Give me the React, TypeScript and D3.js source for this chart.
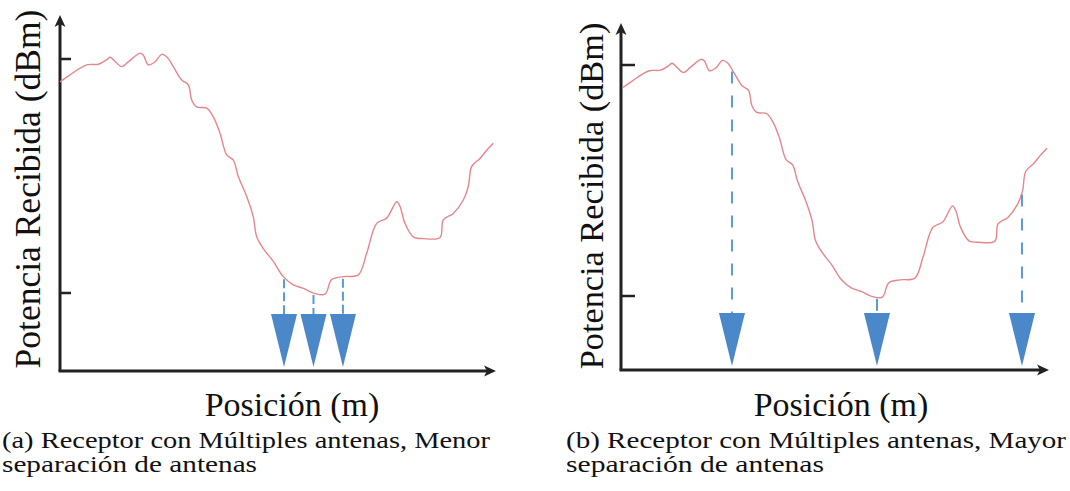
import React from "react";
import * as d3 from "d3";

// Received power curve (arbitrary position units 0..100, power in dBm)
const positions = [0, 2.31, 6.16, 8.84, 10.78, 11.54, 12.3, 14.24, 15.76, 18.46, 19.22, 20.38, 21.92, 23.47, 24.62, 26.15, 28.09, 29.61, 30.39, 31.55, 33.86, 35.38, 36.93, 38.47, 40.0, 41.15, 43.09, 44.61, 45.4, 46.92, 49.23, 51.54, 53.84, 56.15, 58.85, 61.16, 62.7, 65.38, 68.84, 70.78, 73.09, 75.4, 77.71, 78.47, 79.62, 81.54, 83.85, 87.7, 88.46, 90.77, 93.08, 94.23, 95.0, 96.93, 98.48, 100];
const powerDbm = [-43.9, -42.7, -41.0, -40.9, -40.1, -39.7, -40.1, -41.3, -40.5, -39.0, -39.3, -41.0, -40.5, -39.2, -39.6, -41.3, -43.6, -44.4, -47.0, -48.2, -48.4, -49.9, -52.7, -56.4, -57.3, -60.1, -63.5, -67.0, -70.4, -72.4, -74.6, -77.2, -78.6, -79.2, -80.1, -80.2, -77.7, -77.2, -76.9, -73.2, -68.1, -67.2, -64.4, -65.2, -68.1, -70.4, -70.7, -70.5, -67.5, -66.4, -64.1, -61.8, -58.4, -57.0, -55.6, -54.4];

// Antenna positions for each case
const antennasA = [51.7, 58.5, 65.3];
const antennasB = [25.7, 59.9, 94.1];

// Y ticks (unlabelled)
const yTicks = [-80, -40];

const yAxisLabel = "Potencia Recibida (dBm)";
const xAxisLabel = "Posición (m)";
const captionA = ["(a) Receptor con Múltiples antenas, Menor", "separación de antenas"];
const captionB = ["(b) Receptor con Múltiples antenas, Mayor", "separación de antenas"];

const data = positions.map((p, i) => ({ pos: p, dbm: powerDbm[i] }));

interface PanelCfg {
  axisX: number;
  axisY: number;
  yTop: number;
  xTip: number;
  curveRange: [number, number];
  yRange: [number, number];
  tickLen: number;
  yLabelX: number;
  yLabelY: number;
  yLabelSize: number;
  xLabelX: number;
  xLabelY: number;
  captionX: number;
  captionWidths: number[];
  antennas: number[];
  caption: string[];
  dash: string;
}

const panels: PanelCfg[] = [
  {
    axisX: 60, axisY: 371, yTop: 15, xTip: 496,
    curveRange: [60, 493.3], yRange: [293, 59], tickLen: 11,
    yLabelX: 40, yLabelY: 189, yLabelSize: 35.5,
    xLabelX: 292, xLabelY: 416, captionX: 2, captionWidths: [488, 255],
    antennas: antennasA, caption: captionA, dash: "9 4",
  },
  {
    axisX: 621, axisY: 370, yTop: 23, xTip: 1049,
    curveRange: [623, 1047], yRange: [296, 65], tickLen: 14,
    yLabelX: 603, yLabelY: 196, yLabelSize: 34.3,
    xLabelX: 841, xLabelY: 416, captionX: 566, captionWidths: [500, 258],
    antennas: antennasB, caption: captionB, dash: "12 12",
  },
];

const interp = (p: number) => {
  const i = d3.bisector((d: { pos: number }) => d.pos).left(data, p);
  if (i <= 0) return data[0].dbm;
  if (i >= data.length) return data[data.length - 1].dbm;
  const a = data[i - 1], b = data[i];
  const t = (p - a.pos) / (b.pos - a.pos);
  return a.dbm + t * (b.dbm - a.dbm);
};

const Panel = ({ cfg }: { cfg: PanelCfg }) => {
  const x = d3.scaleLinear().domain([0, 100]).range(cfg.curveRange);
  const y = d3.scaleLinear().domain([-80, -40]).range(cfg.yRange);
  const line = d3
    .line<{ pos: number; dbm: number }>()
    .x((d) => x(d.pos))
    .y((d) => y(d.dbm))
    .curve(d3.curveCatmullRom.alpha(0.5));
  const axisColor = "#222";
  const triTop = cfg.axisY - 57;
  const triTip = cfg.axisY - 4;
  const triHalf = 13;
  return (
    <g>
      {/* axes */}
      <line x1={cfg.axisX} y1={cfg.axisY} x2={cfg.axisX} y2={cfg.yTop + 6} stroke={axisColor} strokeWidth={3} />
      <line x1={cfg.axisX - 1.5} y1={cfg.axisY} x2={cfg.xTip - 6} y2={cfg.axisY} stroke={axisColor} strokeWidth={3} />
      <path
        d={`M${cfg.axisX},${cfg.yTop} L${cfg.axisX - 5.5},${cfg.yTop + 12} L${cfg.axisX},${cfg.yTop + 9} L${cfg.axisX + 5.5},${cfg.yTop + 12} Z`}
        fill={axisColor}
      />
      <path
        d={`M${cfg.xTip},${cfg.axisY} L${cfg.xTip - 12},${cfg.axisY - 5.5} L${cfg.xTip - 9},${cfg.axisY} L${cfg.xTip - 12},${cfg.axisY + 5.5} Z`}
        fill={axisColor}
      />
      {yTicks.map((t) => (
        <line key={t} x1={cfg.axisX} x2={cfg.axisX + cfg.tickLen} y1={y(t)} y2={y(t)} stroke={axisColor} strokeWidth={2.5} />
      ))}
      {/* curve */}
      <path d={line(data) || ""} fill="none" stroke="#e5868b" strokeWidth={1.4} strokeLinejoin="round" />
      {/* antennas */}
      {cfg.antennas.map((a) => (
        <g key={a}>
          <line x1={x(a)} x2={x(a)} y1={y(interp(a)) + 2} y2={triTop} stroke="#5b9bd5" strokeWidth={2} strokeDasharray={cfg.dash} />
          <path
            d={`M${x(a) - triHalf},${triTop} L${x(a) + triHalf},${triTop} L${x(a)},${triTip} Z`}
            fill="#4a88c9"
          />
        </g>
      ))}
      {/* labels */}
      <text
        transform={`translate(${cfg.yLabelX},${cfg.yLabelY}) rotate(-90)`}
        textAnchor="middle"
        fontFamily="'Liberation Serif', 'Times New Roman', serif"
        fontSize={cfg.yLabelSize}
        fill="#111"
      >
        {yAxisLabel}
      </text>
      <text
        x={cfg.xLabelX}
        y={cfg.xLabelY}
        textAnchor="middle"
        fontFamily="'Liberation Serif', 'Times New Roman', serif"
        fontSize={34}
        fill="#111"
      >
        {xAxisLabel}
      </text>
      {cfg.caption.map((c, i) => (
        <text
          key={i}
          x={cfg.captionX}
          y={448 + i * 24}
          fontFamily="'Liberation Serif', 'Times New Roman', serif"
          fontSize={24}
          textLength={cfg.captionWidths[i]}
          lengthAdjust="spacingAndGlyphs"
          fill="#111"
        >
          {c}
        </text>
      ))}
    </g>
  );
};

export default function App() {
  return (
    <svg
      width={1070}
      height={491}
      style={{ position: "fixed", left: 0, top: 0, background: "#fff" }}
    >
      <rect width={1070} height={491} fill="#fff" />
      {panels.map((p, i) => (
        <Panel key={i} cfg={p} />
      ))}
    </svg>
  );
}
